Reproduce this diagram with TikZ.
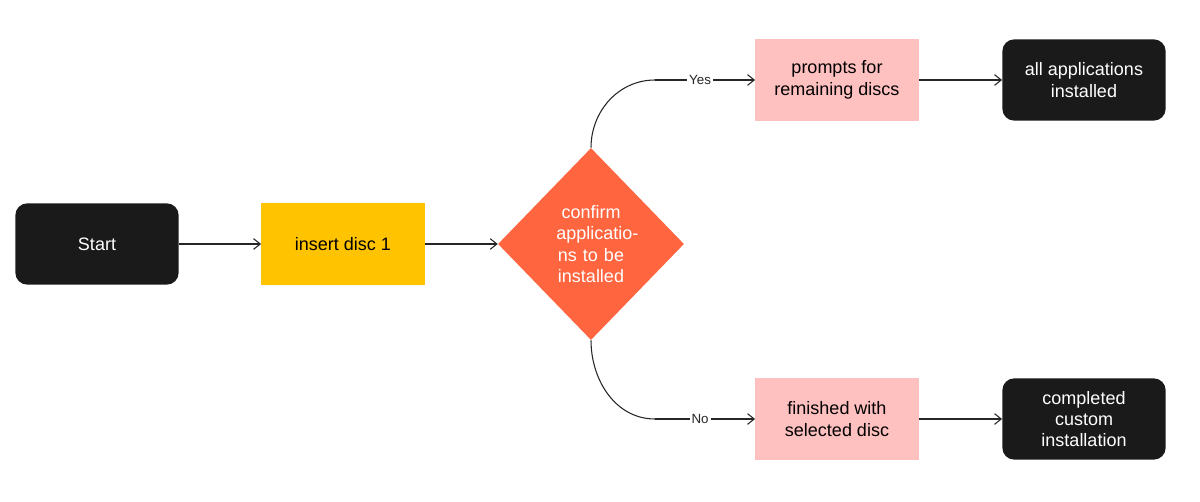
\documentclass[tikz,border=0pt]{standalone}
\usepackage{fontspec}
\setmainfont{Liberation Sans}
\usetikzlibrary{shapes.geometric,arrows.meta}
\begin{document}
\begin{tikzpicture}[x=0.75pt,y=-0.75pt,
  box/.style={minimum width=122.5pt,minimum height=61pt,inner sep=2pt,align=center,font=\fontsize{13.5}{16}\selectfont},
  term/.style={box,fill=black!90,rounded corners=9pt,text=white},
  proc/.style={box,fill=pink!60!red!25},
  lab/.style={fill=white,inner sep=1.5pt,font=\fontsize{10}{12}\selectfont},
  arr/.style={-{Straight Barb[length=5pt,width=8pt]},line width=0.8pt,black!85}]
\useasboundingbox (0,0) rectangle (1200,502);
\definecolor{pk}{HTML}{FFC0C0}
\definecolor{yl}{HTML}{FFC300}
\definecolor{og}{HTML}{FF653F}
\definecolor{bk}{HTML}{1A1A1A}
\node[term,fill=bk] (s) at (97,244) {Start};
\node[box,fill=yl] (i) at (343,244) {insert disc 1};
\node[diamond,fill=og,text=white,minimum width=139.5pt,minimum height=144pt,inner sep=0pt,text width=52pt,align=center,font=\fontsize{13.5}{16}\selectfont] (d) at (591,244) {confirm applicatio\-ns to be installed};
\node[box,fill=pk] (p) at (837,80) {prompts for\\remaining discs};
\node[term,fill=bk] (a) at (1084,80) {all applications\\installed};
\node[box,fill=pk] (f) at (837,419) {finished with\\selected disc};
\node[term,fill=bk] (c) at (1084,419) {completed\\custom\\installation};
\coordinate (ya) at (655,80);
\coordinate (na) at (655,419);
\draw[arr] (s) -- (i);
\draw[arr] (i) -- (d);
\draw[line width=0.8pt,black!85] (d.north) to[out=90,in=180] (ya);
\draw[arr] (ya) -- node[lab,pos=0.45]{Yes} (p.west);
\draw[line width=0.8pt,black!85] (d.south) to[out=-90,in=180] (na);
\draw[arr] (na) -- node[lab,pos=0.45]{No} (f.west);
\draw[arr] (p) -- (a);
\draw[arr] (f) -- (c);
\end{tikzpicture}
\end{document}
